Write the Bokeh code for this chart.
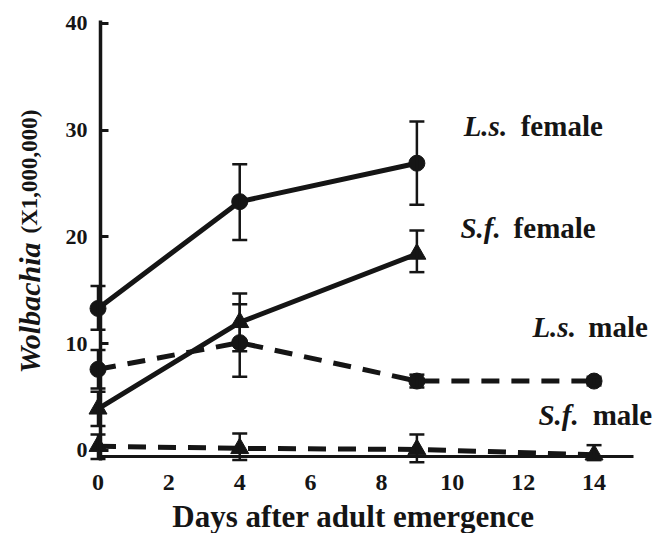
import math
from bokeh.plotting import figure
from bokeh.models import ColumnDataSource, Whisker, TeeHead, Label, FixedTicker
from bokeh.embed import file_html
from bokeh.resources import INLINE

# ---- data ----
days_ls_f = [0, 4, 9]
ls_female = [13.3, 23.3, 26.9]
ls_female_lo = [11.3, 19.7, 23.0]
ls_female_hi = [15.4, 26.8, 30.8]

days_sf_f = [0, 4, 9]
sf_female = [3.9, 12.0, 18.4]
sf_female_lo = [2.3, 9.3, 16.7]
sf_female_hi = [5.5, 14.7, 20.6]

days_ls_m = [0, 4, 9, 14]
ls_male = [7.6, 10.1, 6.5, 6.5]
ls_male_lo = [5.8, 6.9, 5.9, 6.1]
ls_male_hi = [9.4, 13.7, 7.1, 6.9]

days_sf_m = [0, 4, 9, 14]
sf_male = [0.4, 0.2, 0.1, -0.4]
sf_male_lo = [-0.8, -0.9, -1.1, -0.9]
sf_male_hi = [1.5, 1.6, 1.5, 0.5]

x_ticks = [0, 2, 4, 6, 8, 10, 12, 14]
y_ticks = [0, 10, 20, 30, 40]

INK = "#151515"
SERIF = "Liberation Serif"

# The frame covers the whole canvas; axes are drawn at fixed data locations.
p = figure(width=666, height=533, x_range=(-2.752, 16.045), y_range=(-7.772, 42.135),
           output_backend="svg", toolbar_location=None,
           min_border_left=0, min_border_top=0, min_border_right=0, min_border_bottom=0)
p.outline_line_color = None
p.grid.visible = False
p.background_fill_color = "white"
p.border_fill_color = "white"

# y axis
p.yaxis.fixed_location = 0.07
p.yaxis.bounds = (-0.95, 40.3)
p.yaxis.ticker = FixedTicker(ticks=y_ticks)
p.yaxis.major_tick_in = 8
p.yaxis.major_tick_out = 0
p.yaxis.minor_tick_line_color = None
p.yaxis.axis_line_width = 3.5
p.yaxis.axis_line_color = INK
p.yaxis.major_tick_line_width = 3
p.yaxis.major_tick_line_color = INK
p.yaxis.major_label_text_font = SERIF
p.yaxis.major_label_text_font_style = "bold"
p.yaxis.major_label_text_font_size = "22px"
p.yaxis.major_label_text_color = INK
p.yaxis.major_label_standoff = 13

# x axis
p.xaxis.fixed_location = -0.56
p.xaxis.bounds = (0.07, 15.1)
p.xaxis.ticker = FixedTicker(ticks=x_ticks)
p.xaxis.major_tick_in = 0
p.xaxis.major_tick_out = 0
p.xaxis.minor_tick_line_color = None
p.xaxis.axis_line_width = 3
p.xaxis.axis_line_color = INK
p.xaxis.major_label_text_font = SERIF
p.xaxis.major_label_text_font_style = "bold"
p.xaxis.major_label_text_font_size = "24px"
p.xaxis.major_label_text_color = INK
p.xaxis.major_label_standoff = 19

series = [
    (days_ls_f, ls_female, ls_female_lo, ls_female_hi, "solid", "circle", 16),
    (days_sf_f, sf_female, sf_female_lo, sf_female_hi, "solid", "triangle", 18),
    (days_ls_m, ls_male, ls_male_lo, ls_male_hi, "18 12", "circle", 16),
    (days_sf_m, sf_male, sf_male_lo, sf_male_hi, "18 12", "triangle", 18),
]

for xs, ys, lo, hi, dash, marker, size in series:
    src = ColumnDataSource(dict(x=xs, y=ys, lo=lo, hi=hi))
    p.line("x", "y", source=src, line_width=5, line_color=INK, line_dash=dash)
    p.add_layout(Whisker(source=src, base="x", lower="lo", upper="hi",
                         line_width=2.5, line_color=INK, level="glyph",
                         upper_head=TeeHead(size=15, line_width=2.5, line_color=INK),
                         lower_head=TeeHead(size=15, line_width=2.5, line_color=INK)))
    p.scatter("x", "y", source=src, marker=marker, size=size,
              fill_color=INK, line_color=INK)

# series labels (italic species abbreviation + bold sex)
def two_part(x1, x2, y, italic, plain, size="29px"):
    p.add_layout(Label(x=x1, y=y, text=italic, text_font=SERIF, text_font_style="bold italic",
                       text_font_size=size, text_color=INK, text_baseline="alphabetic"))
    p.add_layout(Label(x=x2, y=y, text=plain, text_font=SERIF, text_font_style="bold",
                       text_font_size=size, text_color=INK, text_baseline="alphabetic"))

two_part(10.32, 11.93, 30.34, "L.s.", "female")
two_part(10.23, 11.73, 20.88, "S.f.", "female")
two_part(12.26, 13.84, 11.52, "L.s.", "male")
two_part(12.43, 13.96, 3.3, "S.f.", "male")

# y-axis title: two styles, rotated
p.add_layout(Label(x=-1.93, y=7.2, text="Wolbachia", angle=math.pi / 2,
                   text_font=SERIF, text_font_style="bold italic", text_font_size="30px",
                   text_color=INK, text_baseline="alphabetic", text_align="left"))
p.add_layout(Label(x=-1.93, y=20.32, text="(X1,000,000)", angle=math.pi / 2,
                   text_font=SERIF, text_font_style="bold", text_font_size="23px",
                   text_color=INK, text_baseline="alphabetic", text_align="left"))

# x-axis title
p.add_layout(Label(x=7.21, y=-6.2, text="Days after adult emergence",
                   text_font=SERIF, text_font_style="bold", text_font_size="31px",
                   text_color=INK, text_baseline="alphabetic", text_align="center"))

open("out.html", "w").write(file_html(p, INLINE))
